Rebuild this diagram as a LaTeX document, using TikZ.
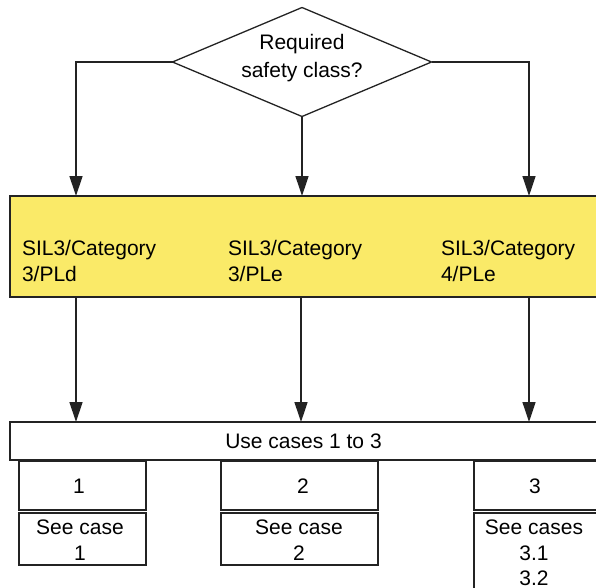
\documentclass[tikz,border=0pt]{standalone}
\usepackage{fontspec}
\setmainfont{Liberation Sans}
\usetikzlibrary{arrows.meta,shapes.geometric}
\definecolor{sy}{RGB}{250,234,104}
\definecolor{ln}{RGB}{35,35,35}
\begin{document}
\begin{tikzpicture}[x=1pt,y=-1pt,
  every node/.style={font=\fontsize{21}{25.5}\selectfont, inner sep=0pt, outer sep=0pt, text=black},
  arr/.style={draw=ln, line width=1.3pt, -{Triangle[length=20pt,width=13pt]}},
  box/.style={draw=ln, line width=1.3pt, rectangle, anchor=north west},
  lbl/.style={align=center},
  lbll/.style={align=left, anchor=west}]
\useasboundingbox (0,0) rectangle (596,587);
\clip (0,0) rectangle (596,587);
% decision
\node[draw=ln, line width=1.3pt, diamond, aspect=2.38, minimum width=259pt, minimum height=109pt] (d) at (302,62) {};
\node[lbl, font=\fontsize{21}{28}\selectfont] (q) at (302,58) {Required\\safety class?};
% yellow band
\node[box, fill=sy, minimum width=620pt, minimum height=101pt] (yb) at (10,196) {};
\node[lbll] (s1) at (22,261) {SIL3/Category\\3/PLd};
\node[lbll] (s2) at (228,261) {SIL3/Category\\3/PLe};
\node[lbll] (s3) at (441,261) {SIL3/Category\\4/PLe};
% x positions of arrows
\coordinate (xl) at (76,0);
\coordinate (xm) at (301,0);
\coordinate (xr) at (529,0);
\draw[arr] (d.west) -| (xl |- yb.north);
\draw[arr] (d.south) -- (d.south |- yb.north);
\draw[arr] (d.east) -| (xr |- yb.north);
% use cases
\node[box, minimum width=620pt, minimum height=38pt] (uc) at (10,422) {};
\node (uct) at (303.5,441) {Use cases 1 to 3};
\draw[arr] (xl |- yb.south) -- (xl |- uc.north);
\draw[arr] (xm |- yb.south) -- (xm |- uc.north);
\draw[arr] (xr |- yb.south) -- (xr |- uc.north);
% case boxes
\node[box, minimum width=127pt, minimum height=49pt] (b1) at (19,461) {};
\node[box, minimum width=127pt, minimum height=52pt] (c1) at (19,513) {};
\node (b1t) at (79,486) {1};
\node[lbl] (c1t) at (80,540) {See case\\1};
\node[box, minimum width=157pt, minimum height=49pt] (b2) at (221,461) {};
\node[box, minimum width=157pt, minimum height=52pt] (c2) at (221,513) {};
\node (b2t) at (303,486) {2};
\node[lbl] (c2t) at (299,540) {See case\\2};
\node[box, minimum width=160pt, minimum height=49pt] (b3) at (474,461) {};
\node[box, minimum width=160pt, minimum height=100pt] (c3) at (474,513) {};
\node (b3t) at (535,486) {3};
\node[lbl] (c3t) at (534,553) {See cases\\3.1\\3.2};
\end{tikzpicture}
\end{document}
